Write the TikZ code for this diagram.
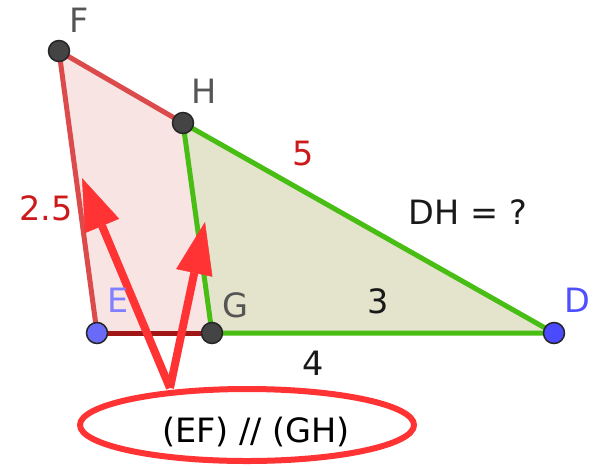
\documentclass[tikz,border=0pt]{standalone}
\usepackage{fontspec}
\setmainfont{DejaVu Sans}
\usetikzlibrary{arrows.meta,shapes.geometric}
\definecolor{redEdge}{HTML}{DB4B4B}
\definecolor{darkRed}{HTML}{A01515}
\definecolor{greenEdge}{HTML}{48BE14}
\definecolor{pinkFill}{HTML}{F9E4E4}
\definecolor{oliveFill}{HTML}{E4E4CC}
\definecolor{arrowRed}{HTML}{FF3333}
\definecolor{labelGray}{HTML}{555555}
\definecolor{labelRed}{HTML}{CC1A1A}
\definecolor{lightBlue}{HTML}{7F7FFF}
\definecolor{blueLbl}{HTML}{4F4FFF}
\definecolor{dotGray}{HTML}{444444}
\definecolor{dotBlue}{HTML}{6A6AF8}
\definecolor{dotBlueD}{HTML}{4A4AFF}
\tikzset{
  edge/.style={line width=5pt, line cap=round, line join=round},
  ptdot/.style={circle, draw=black!85, line width=1.5pt, minimum size=21pt, inner sep=0pt},
  lbl/.style={font=\fontsize{33.5}{40}\selectfont, inner sep=0pt, anchor=base},
  pointer/.style={draw=arrowRed, line width=8pt, -{Triangle[length=52pt,width=37pt,line width=0.5pt]}, arrowRed},
}
\begin{document}
\begin{tikzpicture}[x=1pt,y=-1pt]
\useasboundingbox (0,0) rectangle (596,469);
% vertices
\coordinate (F) at (59,51);
\coordinate (H) at (183,123);
\coordinate (E) at (97,333);
\coordinate (G) at (212,333);
\coordinate (D) at (554,333);
% fills
\fill[pinkFill] (F) -- (H) -- (G) -- (E) -- cycle;
\fill[oliveFill] (H) -- (D) -- (G) -- cycle;
% edges
\draw[edge, redEdge] (E) -- (F) -- (H);
\draw[edge, darkRed] (E) -- (G);
\draw[edge, greenEdge] (H) -- (G) -- (D) -- cycle;
% ellipse and text
\node[ellipse, draw=arrowRed, line width=6pt, minimum width=334pt, minimum height=72pt, inner sep=0pt] (ell) at (247,425) {};
\node[lbl] (par) at (256,442) {(EF) // (GH)};
% arrows
\coordinate (s) at (170,388);
\coordinate (t1) at (82,178);
\coordinate (t2) at (205,222);
\draw[pointer] (s) -- (t1);
\draw[pointer] (s) -- (t2);
% points
\node[ptdot, fill=dotGray] (pF) at (F) {};
\node[ptdot, fill=dotGray] (pH) at (H) {};
\node[ptdot, fill=dotGray] (pG) at (G) {};
\node[ptdot, fill=dotBlue] (pE) at (E) {};
\node[ptdot, fill=dotBlueD] (pD) at (D) {};
% labels
\node[lbl, text=labelGray] (lF) at (79,32) {F};
\node[lbl, text=labelGray] (lH) at (204,103) {H};
\node[lbl, text=lightBlue] (lE) at (118,312) {E};
\node[lbl, text=labelGray] (lG) at (235,317) {G};
\node[lbl, text=blueLbl] (lD) at (577,312) {D};
\node[lbl, text=labelRed] (l5) at (303,165) {5};
\node[lbl, text=labelRed] (l25) at (46,220) {2.5};
\node[lbl, text=black!90] (l3) at (378,313) {3};
\node[lbl, text=black!90] (l4) at (313,375) {4};
\node[lbl, text=black!90] (ldh) at (468,224) {DH = ?};
\end{tikzpicture}
\end{document}
